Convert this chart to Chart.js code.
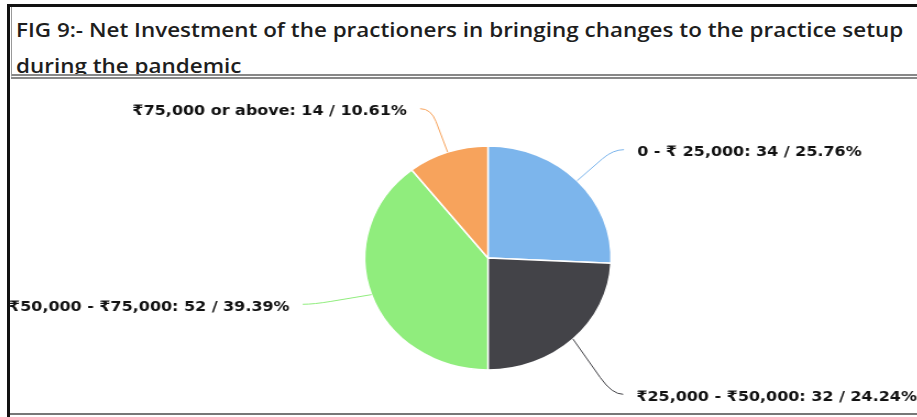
<!DOCTYPE html>
<html>
<head>
<meta charset="utf-8">
<script src="https://cdn.jsdelivr.net/npm/chart.js@4"></script>
<style>
  html, body { margin: 0; padding: 0; background: #fff; width: 917px; height: 417px; overflow: hidden; }
  #frame { position: absolute; left: 7px; top: 4px; width: 920px; height: 420px;
           border-left: 3px solid #111; border-top: 3px solid #111; }
  #title { position: absolute; left: 11px; top: 7px; width: 920px; height: 72px;
           border-left: 1px solid #999; border-bottom: 5px double #888; box-sizing: border-box;
           padding: 4px 0 0 4px; overflow: hidden; }
  #title span { display: inline-block; transform: scaleX(1.1); transform-origin: 0 0;
                font-family: "Open Sans", sans-serif; font-weight: 600; font-size: 20.4px;
                line-height: 36px; color: #1e1e1e; white-space: nowrap; }
  #chartBox { position: absolute; left: 10px; top: 86px; width: 920px; height: 327px;
              border-bottom: 2px solid #777; }
  #stretch { width: 825px; height: 327px; transform: scaleX(1.1); transform-origin: 0 0; }
</style>
</head>
<body>
<div id="frame"></div>
<div id="title"><span>FIG 9:- Net Investment of the practioners in bringing changes to the practice setup<br>during the pandemic</span></div>
<div id="chartBox"><div id="stretch"><canvas id="investChart" width="825" height="327"></canvas></div></div>

<script>
// --- Data ---
const categories = ["0 - ₹ 25,000", "₹25,000 - ₹50,000", "₹50,000 - ₹75,000", "₹75,000 or above"];
const responses = [34, 32, 52, 14];
const sliceColors = ["#7cb5ec", "#434348", "#90ed7d", "#f7a35c"];

// elbow of each leader line: distance past the rim, and a small turn (degrees) off the slice middle
const labelDistance = [45, 65, 53, 46];
const labelTurn = [0, 4, 2.8, 0];

// --- Leader lines and labels ---
const pieLabels = {
  id: "pieLabels",
  afterDraw(chart) {
    const ctx = chart.ctx;
    const meta = chart.getDatasetMeta(0);
    const values = chart.data.datasets[0].data;
    const total = values.reduce((a, b) => a + b, 0);

    ctx.save();
    ctx.font = "bold 14.5px 'DejaVu Sans', Verdana, sans-serif";
    ctx.textBaseline = "middle";
    meta.data.forEach((arc, i) => {
      const p = arc.getProps(["x", "y", "startAngle", "endAngle", "outerRadius"], true);
      const mid = (p.startAngle + p.endAngle) / 2;
      const turned = mid + labelTurn[i] * Math.PI / 180;
      const r = p.outerRadius;
      const d = labelDistance[i];

      const ex = p.x + r * Math.cos(mid), ey = p.y + r * Math.sin(mid);
      const kx = p.x + (r + d) * Math.cos(turned), ky = p.y + (r + d) * Math.sin(turned);
      const mx = ex + (kx - ex) * 0.7, my = ey + (ky - ey) * 0.7;
      const side = Math.cos(mid) >= 0 ? 1 : -1;
      const endX = kx + side * 10;

      ctx.strokeStyle = sliceColors[i];
      ctx.lineWidth = 1;
      ctx.beginPath();
      ctx.moveTo(ex, ey);
      ctx.lineTo(mx, my);
      ctx.quadraticCurveTo(kx, ky, endX, ky);
      ctx.stroke();

      const pct = (values[i] / total * 100).toFixed(2);
      ctx.fillStyle = "#111";
      ctx.textAlign = side > 0 ? "left" : "right";
      ctx.fillText(`${categories[i]}: ${values[i]} / ${pct}%`, endX + side * 12, ky + 3);
    });
    ctx.restore();
  }
};

// --- Chart ---
new Chart(document.getElementById("investChart"), {
  type: "pie",
  data: {
    labels: categories,
    datasets: [{
      data: responses,
      backgroundColor: sliceColors,
      borderColor: "#ffffff",
      borderWidth: 1.5,
      radius: 112
    }]
  },
  options: {
    responsive: false,
    animation: false,
    layout: { padding: { left: 100, right: 56, top: 60, bottom: 43 } },
    plugins: {
      legend: { display: false },
      tooltip: { enabled: false }
    }
  },
  plugins: [pieLabels]
});
</script>
</body>
</html>
